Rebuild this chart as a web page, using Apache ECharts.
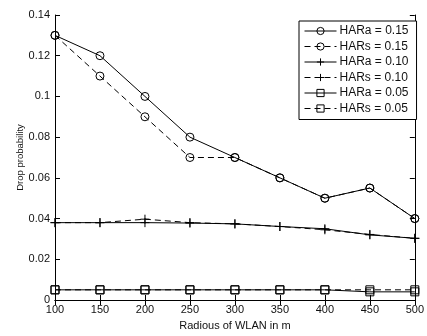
<!DOCTYPE html>
<html>
<head>
<meta charset="utf-8">
<script src="https://cdn.jsdelivr.net/npm/echarts@6/dist/echarts.min.js"></script>
<style>
  html, body { margin: 0; padding: 0; background: #fff; }
  #chart { width: 427px; height: 336px; }
</style>
</head>
<body>
<div id="chart"></div>
<script>
// radius of WLAN (m)
const radius = [100, 150, 200, 250, 300, 350, 400, 450, 500];

const hara15 = [0.13, 0.12, 0.10, 0.08, 0.07, 0.06, 0.05, 0.055, 0.04];
const hars15 = [0.13, 0.11, 0.09, 0.07, 0.07, 0.06, 0.05, 0.055, 0.04];
const hara10 = [0.038, 0.038, 0.038, 0.0378, 0.0374, 0.0361, 0.035, 0.032, 0.0303];
const hars10 = [0.038, 0.038, 0.0397, 0.038, 0.0374, 0.0361, 0.0345, 0.0322, 0.0303];
const hara05 = [0.005, 0.005, 0.005, 0.005, 0.005, 0.005, 0.005, 0.004, 0.004];
const hars05 = [0.005, 0.005, 0.005, 0.005, 0.005, 0.005, 0.005, 0.005, 0.005];

const seriesNames = ['HARa = 0.15', 'HARs = 0.15', 'HARa = 0.10', 'HARs = 0.10', 'HARa = 0.05', 'HARs = 0.05'];

const plusPath = 'path://M0,5L10,5M5,0L5,10';
const font = 'Liberation Sans, Arial, sans-serif';

function mk(name, values, symbol, size, dashed) {
  return {
    name: name,
    type: 'line',
    data: radius.map((r, i) => [r, values[i]]),
    symbol: symbol,
    symbolSize: size,
    showAllSymbol: true,
    clip: false,
    lineStyle: { color: '#000', width: 1, type: dashed ? [6, 4] : 'solid' },
    itemStyle: { color: 'rgba(0,0,0,0)', borderColor: '#000', borderWidth: 1 },
    emphasis: { disabled: true },
    animation: false
  };
}

const chart = echarts.init(document.getElementById('chart'));
chart.setOption({
  animation: false,
  textStyle: { fontFamily: font },
  grid: { left: 55, right: 8, top: 15, bottom: 33, containLabel: false },
  legend: {
    data: seriesNames,
    orient: 'vertical',
    left: 299,
    top: 21,
    padding: [4, 8, 5, 5],
    itemWidth: 32,
    itemHeight: 9,
    itemGap: 3.5,
    backgroundColor: '#fff',
    borderColor: '#000',
    borderWidth: 1,
    borderRadius: 0,
    lineStyle: { width: 1, color: '#000' },
    itemStyle: { borderWidth: 1, borderColor: '#000', color: 'rgba(0,0,0,0)' },
    textStyle: { fontFamily: font, fontSize: 12, lineHeight: 12, color: '#111', padding: [0, 0, 0, -2] }
  },
  xAxis: [{
    type: 'value',
    min: 100, max: 500, interval: 50,
    name: 'Radious of WLAN in m',
    nameLocation: 'middle',
    nameGap: 20,
    nameMoveOverlap: false,
    nameTextStyle: { fontSize: 11, color: '#111' },
    axisLine: { show: true, onZero: false, lineStyle: { color: '#000', width: 1 } },
    axisTick: { show: true, inside: true, length: 5, lineStyle: { color: '#000' } },
    axisLabel: { fontSize: 11, color: '#111', margin: 4 },
    splitLine: { show: false }
  }, {
    type: 'value', position: 'top',
    min: 100, max: 500, interval: 50,
    axisLine: { show: true, lineStyle: { color: '#000', width: 1 } },
    axisTick: { show: true, inside: true, length: 5, lineStyle: { color: '#000' } },
    axisLabel: { show: false },
    splitLine: { show: false }
  }],
  yAxis: [{
    type: 'value',
    min: 0, max: 0.14, interval: 0.02,
    name: 'Drop probability',
    nameLocation: 'middle',
    nameGap: 30,
    nameMoveOverlap: false,
    nameTextStyle: { fontSize: 9.5, color: '#111' },
    axisLine: { show: true, onZero: false, lineStyle: { color: '#000', width: 1 } },
    axisTick: { show: true, inside: true, length: 5, lineStyle: { color: '#000' } },
    axisLabel: { fontSize: 11, color: '#111', margin: 5, formatter: v => String(+v.toFixed(2)) },
    splitLine: { show: false }
  }, {
    type: 'value', position: 'right',
    min: 0, max: 0.14, interval: 0.02,
    axisLine: { show: true, lineStyle: { color: '#000', width: 1 } },
    axisTick: { show: true, inside: true, length: 5, lineStyle: { color: '#000' } },
    axisLabel: { show: false },
    splitLine: { show: false }
  }],
  series: [
    mk(seriesNames[0], hara15, 'circle', 8, false),
    mk(seriesNames[1], hars15, 'circle', 8, true),
    mk(seriesNames[2], hara10, plusPath, 9, false),
    mk(seriesNames[3], hars10, plusPath, 9, true),
    mk(seriesNames[4], hara05, 'rect', 8, false),
    mk(seriesNames[5], hars05, 'rect', 8, true)
  ]
});
</script>
</body>
</html>
